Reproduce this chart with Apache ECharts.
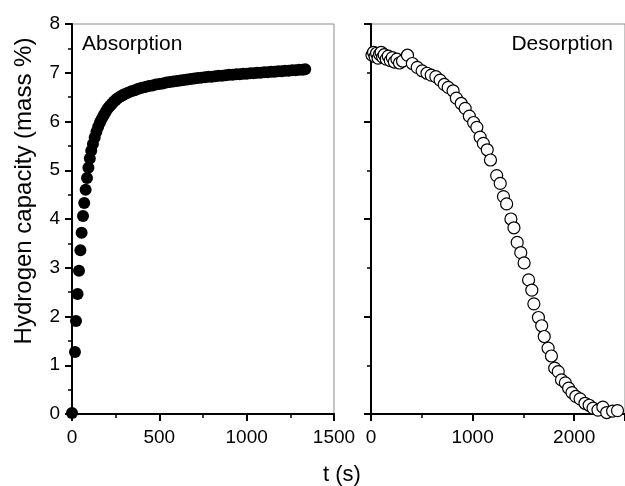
<!DOCTYPE html>
<html>
<head>
<meta charset="utf-8">
<script src="https://cdn.jsdelivr.net/npm/echarts@6/dist/echarts.min.js"></script>
<style>html,body{margin:0;padding:0;background:#fff}#c{width:625px;height:486px}</style>
</head>
<body>
<div id="c"></div>
<script>
// Absorption (filled circles)
const absTime = [0, 17, 23, 32, 40, 48, 55, 63, 70, 78, 86, 94, 102, 110,
  120, 130, 140, 150, 160, 170, 180, 190, 200, 210, 220, 230, 240, 250, 260, 270, 280, 290, 300,
  320, 340, 360, 380, 400, 420, 440, 460, 480, 500, 520, 540, 560, 580, 600, 620, 640, 660, 680, 700,
  720, 740, 760, 780, 800, 820, 840, 860, 880, 900, 920, 940, 960, 980, 1000, 1020, 1040, 1060, 1080,
  1100, 1120, 1140, 1160, 1180, 1200, 1220, 1240, 1260, 1280, 1300, 1320, 1335];
const absCap = [0.02, 1.27, 1.91, 2.46, 2.94, 3.36, 3.72, 4.06, 4.33, 4.60, 4.84, 5.05, 5.24, 5.40,
  5.54, 5.67, 5.79, 5.89, 5.98, 6.05, 6.12, 6.18, 6.24, 6.29, 6.33, 6.37, 6.41, 6.44, 6.47, 6.50, 6.52, 6.54, 6.56,
  6.59, 6.62, 6.64, 6.67, 6.69, 6.71, 6.73, 6.74, 6.76, 6.77, 6.78, 6.80, 6.81, 6.82, 6.83, 6.84, 6.85, 6.86, 6.87, 6.88,
  6.89, 6.90, 6.91, 6.92, 6.92, 6.93, 6.94, 6.94, 6.95, 6.96, 6.96, 6.97, 6.97, 6.98, 6.98, 6.99, 6.99, 7.00, 7.00,
  7.01, 7.01, 7.02, 7.02, 7.03, 7.03, 7.04, 7.04, 7.05, 7.05, 7.06, 7.06, 7.07];

// Desorption (open circles)
const desTime = [10, 25, 40, 55, 70, 85, 100, 115, 130, 150, 170, 190, 210, 230, 255, 280, 310, 359,
  407, 455, 503, 551, 593, 638, 680, 721, 760, 808, 840, 888, 927, 968, 1010, 1042, 1074, 1106, 1144, 1176,
  1237, 1272, 1304, 1335, 1377, 1407, 1439, 1474, 1507, 1551, 1583, 1603, 1648, 1680, 1705, 1743, 1776, 1808,
  1843, 1875, 1913, 1945, 1978, 2016, 2058, 2106, 2147, 2186, 2234, 2282, 2320, 2378, 2426];
const desCap = [7.36, 7.42, 7.33, 7.40, 7.30, 7.38, 7.42, 7.32, 7.37, 7.28, 7.34, 7.25, 7.31, 7.22, 7.28, 7.20, 7.24, 7.36,
  7.19, 7.11, 7.04, 6.99, 6.95, 6.92, 6.85, 6.76, 6.70, 6.63, 6.48, 6.37, 6.27, 6.11, 5.98, 5.88, 5.68, 5.55, 5.42, 5.21,
  4.89, 4.73, 4.46, 4.31, 4.00, 3.82, 3.52, 3.31, 3.10, 2.75, 2.54, 2.26, 1.98, 1.81, 1.59, 1.35, 1.19, 0.94,
  0.87, 0.70, 0.64, 0.53, 0.44, 0.36, 0.31, 0.22, 0.18, 0.12, 0.08, 0.14, 0.03, 0.06, 0.07];

const panelLabels = ['Absorption', 'Desorption'];
const yTitle = 'Hydrogen capacity (mass %)';
const xTitle = 't (s)';

const FONT = '"Liberation Sans", Arial, sans-serif';
const pair = (xs, ys) => xs.map((x, i) => [x, ys[i]]);
const plain = v => String(v);

const axisLine = { show: true, onZero: false, lineStyle: { color: '#000', width: 2 } };
const axisTick = { show: true, inside: false, length: 7, lineStyle: { color: '#000', width: 2 } };
const minorTick = { show: true, splitNumber: 2, length: 4, lineStyle: { color: '#000', width: 1.5 } };
const lbl = { color: '#000', fontFamily: FONT, fontSize: 19, formatter: plain };

const chart = echarts.init(document.getElementById('c'), null, { renderer: 'canvas' });
chart.setOption({
  backgroundColor: '#fff',
  animation: false,
  grid: [
    { left: 72, top: 24, width: 262, height: 390, show: true, borderColor: '#8c8c8c', borderWidth: 1, backgroundColor: 'transparent' },
    { left: 371, top: 24, width: 260, height: 390, show: true, borderColor: '#8c8c8c', borderWidth: 1, backgroundColor: 'transparent' }
  ],
  xAxis: [
    { gridIndex: 0, type: 'value', min: 0, max: 1500, interval: 500, axisLine, axisTick, minorTick,
      splitLine: { show: false }, axisLabel: Object.assign({ margin: 14 }, lbl) },
    { gridIndex: 1, type: 'value', min: 0, max: 2500, interval: 1000, axisLine, axisTick, minorTick,
      splitLine: { show: false }, axisLabel: Object.assign({ margin: 14, showMaxLabel: false }, lbl) }
  ],
  yAxis: [
    { gridIndex: 0, type: 'value', min: 0, max: 8, interval: 1, axisLine, axisTick, minorTick,
      splitLine: { show: false }, axisLabel: Object.assign({ margin: 12 }, lbl) },
    { gridIndex: 1, type: 'value', min: 0, max: 8, interval: 2, axisLine, axisTick, minorTick,
      splitLine: { show: false }, axisLabel: { show: false } }
  ],
  series: [
    { type: 'scatter', xAxisIndex: 0, yAxisIndex: 0, data: pair(absTime, absCap), symbol: 'circle', symbolSize: 12,
      itemStyle: { color: '#000', opacity: 1 }, clip: true },
    { type: 'scatter', xAxisIndex: 1, yAxisIndex: 1, data: pair(desTime, desCap), symbol: 'circle', symbolSize: 12,
      itemStyle: { color: '#fff', borderColor: '#000', borderWidth: 1.2, opacity: 1 }, clip: true }
  ],
  graphic: [
    { type: 'text', left: 82, top: 34, style: { text: panelLabels[0], font: '21px ' + FONT, fill: '#000' } },
    { type: 'text', right: 12, top: 34, style: { text: panelLabels[1], font: '21px ' + FONT, fill: '#000' } },
    { type: 'text', x: 342, y: 475, style: { text: xTitle, font: '22px ' + FONT, fill: '#000', textAlign: 'center', textVerticalAlign: 'middle' } },
    { type: 'text', x: 24, y: 191, rotation: Math.PI / 2, style: { text: yTitle, font: '24px ' + FONT, fill: '#000', textAlign: 'center', textVerticalAlign: 'middle' } }
  ]
});
</script>
</body>
</html>
